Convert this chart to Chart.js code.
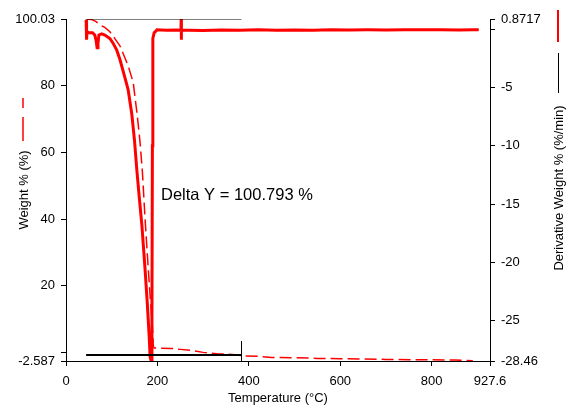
<!DOCTYPE html>
<html>
<head>
<meta charset="utf-8">
<script src="https://cdn.jsdelivr.net/npm/chart.js@4.4.0/dist/chart.umd.min.js"></script>
<style>
  html, body { margin: 0; padding: 0; background: #fff; }
  #wrap { width: 566px; height: 406px; }
</style>
</head>
<body>
<div id="wrap"><canvas id="chart-tga" width="566" height="406"></canvas></div>
<script>
// === DATOS ===
// Weight % (left axis, dashed)
const weightTemp = [45, 55, 65, 75, 85, 96, 105, 118, 127, 136, 147, 156, 162, 167, 173, 180, 185, 189, 191, 193, 230, 250, 275, 300, 330, 370, 390, 420, 450, 500, 550, 600, 650, 700, 750, 800, 850, 890];
const weightPct  = [100.0, 99.9, 99.3, 98.2, 97.5, 96.2, 94.5, 92.0, 89.0, 86.0, 81.0, 71.0, 63.0, 54.5, 40.0, 25.0, 15.0, 8.0, 2.0, 1.3, 1.2, 0.9, 0.6, 0.0, -0.4, -0.7, -1.1, -1.2, -1.5, -1.6, -1.8, -1.9, -2.0, -2.1, -2.2, -2.2, -2.3, -2.5];

// Derivative weight % (right axis, solid)
const derivTemp = [44, 45, 46, 50, 58, 63, 66, 68, 70, 72, 78, 85, 96, 103, 111, 118, 125, 132, 136, 144, 150, 155, 160, 166, 173, 178, 182, 184, 186, 188, 189, 190, 193, 196, 199, 220, 240, 251.5, 252, 252.3, 252.6, 270, 300, 340, 380, 420, 460, 500, 540, 580, 620, 660, 700, 740, 780, 820, 860, 890, 903];
const derivVal  = [0.8, -0.9, -0.2, -0.3, -0.3, -0.5, -1.0, -1.6, -1.2, -0.5, -0.4, -0.5, -0.8, -1.2, -1.8, -2.6, -3.6, -4.6, -5.2, -7.3, -9.6, -12.1, -14.3, -16.8, -20.6, -23.6, -26.4, -28.1, -28.4, -25.0, -10.0, -0.8, -0.3, -0.2, -0.05, -0.1, -0.08, -0.1, 0.87, -0.9, -0.1, -0.1, -0.12, -0.08, -0.1, -0.06, -0.1, -0.07, -0.09, -0.05, -0.08, -0.06, -0.07, -0.04, -0.06, -0.05, -0.08, -0.04, -0.05];

// Marcadores Delta Y (left axis, black)
const markTopTemp = [44, 384];
const markTopVal = [100.03, 100.03];
const markBotTemp = [44, 384];
const markBotVal = [-0.763, -0.763];
const markTickTemp = [384, 384];
const markTickVal = [-2.587, 3.4];

// Ticks
const xTicks = [0, 200, 400, 600, 800, 927.6];
const yLeftTicks = [-2.587, 0, 20, 40, 60, 80, 100.03];
const yRightTicks = [-28.46, -25, -20, -15, -10, -5, 0, 0.8717];

const deltaLabel = 'Delta Y = 100.793 %';

const FONT = '"Liberation Sans", Arial, sans-serif';

function pares(xs, ys) {
  return xs.map((x, i) => ({ x: x, y: ys[i] }));
}

function ejeComun(ticks, hideZero, pad) {
  return {
    afterBuildTicks: (axis) => { axis.ticks = ticks.map(v => ({ value: v })); },
    ticks: {
      color: '#000',
      font: { family: FONT, size: 13 },
      padding: pad,
      maxRotation: 0,
      autoSkip: false,
      callback: (v) => (hideZero && v === 0) ? '' : String(v)
    },
    grid: { display: true, drawOnChartArea: false, drawTicks: true, tickLength: 5, color: '#000' },
    border: { display: true, color: '#000', width: 1 }
  };
}

// === PLUGIN: titulos, leyendas y etiqueta ===
const extras = {
  id: 'extras',
  afterDraw(chart) {
    const c = chart.ctx;
    c.save();
    // leyenda izquierda (dashed)
    c.strokeStyle = '#ff0000';
    c.lineWidth = 1.5;
    c.setLineDash([10, 9, 24, 9]);
    c.beginPath(); c.moveTo(23, 98); c.lineTo(23, 141); c.stroke();
    c.setLineDash([]);
    // leyenda derecha
    c.lineWidth = 2;
    c.beginPath(); c.moveTo(558, 10); c.lineTo(558, 42); c.stroke();
    c.strokeStyle = '#000';
    c.lineWidth = 1;
    c.beginPath(); c.moveTo(558.5, 53); c.lineTo(558.5, 93); c.stroke();

    c.fillStyle = '#000';
    c.font = '13px ' + FONT;
    c.textAlign = 'center';
    c.textBaseline = 'middle';
    c.save(); c.translate(24, 190); c.rotate(-Math.PI / 2); c.fillText('Weight % (%)', 0, 0); c.restore();
    c.save(); c.translate(559, 188); c.rotate(-Math.PI / 2); c.fillText('Derivative Weight % (%/min)', 0, 0); c.restore();
    c.fillText('Temperature (°C)', 278, 398);

    c.font = '16.5px ' + FONT;
    c.textAlign = 'left';
    c.fillText(deltaLabel, 161, 195);
    c.restore();
  }
};

const ctx = document.getElementById('chart-tga').getContext('2d');
const chartTga = new Chart(ctx, {
  type: 'line',
  data: {
    datasets: [
      { data: pares(markTopTemp, markTopVal), yAxisID: 'y', borderColor: '#000', borderWidth: 1 },
      { data: pares(markBotTemp, markBotVal), yAxisID: 'y', borderColor: '#000', borderWidth: 2 },
      { data: pares(markTickTemp, markTickVal), yAxisID: 'y', borderColor: '#000', borderWidth: 1 },
      { data: pares(weightTemp, weightPct), yAxisID: 'y', borderColor: '#ff0000', borderWidth: 1.5, borderDash: [12, 5] },
      { data: pares(derivTemp, derivVal), yAxisID: 'y1', borderColor: '#ff0000', borderWidth: 3 }
    ]
  },
  options: {
    responsive: false,
    animation: false,
    events: [],
    elements: { point: { radius: 0 }, line: { tension: 0 } },
    layout: { padding: { top: 19, left: 0, right: 0, bottom: 0 } },
    plugins: { legend: { display: false }, title: { display: false }, tooltip: { enabled: false } },
    scales: {
      x: Object.assign(ejeComun(xTicks, false, 8), {
        type: 'linear', min: 0, max: 927.6,
        afterFit: (axis) => { axis.height = 45; }
      }),
      y: Object.assign(ejeComun(yLeftTicks, true, 6), {
        type: 'linear', position: 'left', min: -2.587, max: 100.03,
        afterFit: (axis) => { axis.width = 66; }
      }),
      y1: Object.assign(ejeComun(yRightTicks, true, 6), {
        type: 'linear', position: 'right', min: -28.46, max: 0.8717,
        afterFit: (axis) => { axis.width = 76; }
      })
    }
  },
  plugins: [extras]
});
</script>
</body>
</html>
